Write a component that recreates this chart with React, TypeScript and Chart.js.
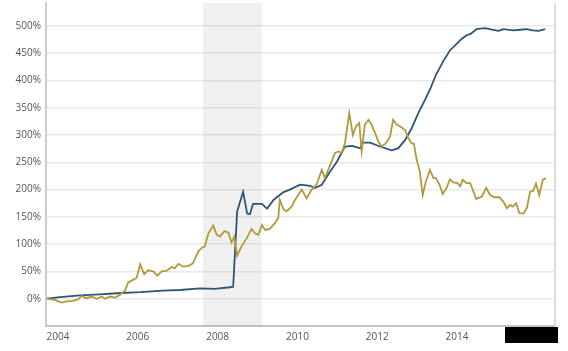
import React, { useEffect, useRef } from "react";
import { Chart, registerables } from "chart.js";

Chart.register(...registerables);

// Time axis (decimal years) and values (% change) for the two series
const blueYears = [
  2003.72, 2004.05, 2004.55, 2005.05, 2005.48, 2006.06, 2006.63, 2007.06, 2007.56, 2007.93,
  2008.31, 2008.39, 2008.49, 2008.64, 2008.74, 2008.81, 2008.89, 2009.11, 2009.24, 2009.4,
  2009.64, 2009.81, 2010.07, 2010.32, 2010.44, 2010.61, 2010.82, 2010.99, 2011.19, 2011.37,
  2011.57, 2011.65, 2011.82, 2012.07, 2012.36, 2012.53, 2012.7, 2012.86, 2013.03, 2013.2,
  2013.32, 2013.47, 2013.66, 2013.82, 2013.99, 2014.13, 2014.24, 2014.33, 2014.49, 2014.7,
  2014.88, 2015.04, 2015.16, 2015.41, 2015.58, 2015.75, 2015.9, 2016.04, 2016.21,
];
const blueValues = [
  0, 3, 6, 8, 10, 12, 15, 16, 19, 18,
  21, 22, 160, 196, 156, 155, 174, 174, 165, 181,
  195, 200, 209, 207, 203, 209, 233, 251, 279, 280,
  276, 286, 286, 279, 272, 276, 291, 312, 340, 365,
  383, 410, 436, 455, 467, 477, 483, 485, 494, 496,
  493, 491, 494, 492, 493, 494, 492, 491, 494,
];

const goldYears = [
  2003.72, 2003.92, 2004.09, 2004.22, 2004.38, 2004.51, 2004.59, 2004.72, 2004.84, 2004.97,
  2005.1, 2005.18, 2005.3, 2005.43, 2005.55, 2005.68, 2005.76, 2005.89, 2005.97, 2006.06,
  2006.16, 2006.26, 2006.39, 2006.49, 2006.6, 2006.72, 2006.85, 2006.93, 2007.02, 2007.14,
  2007.27, 2007.38, 2007.52, 2007.6, 2007.68, 2007.77, 2007.89, 2007.98, 2008.06, 2008.17,
  2008.27, 2008.35, 2008.42, 2008.49, 2008.6, 2008.73, 2008.85, 2008.94, 2009.02, 2009.11,
  2009.19, 2009.31, 2009.44, 2009.52, 2009.56, 2009.65, 2009.73, 2009.86, 2009.94, 2010.02,
  2010.11, 2010.23, 2010.36, 2010.48, 2010.61, 2010.69, 2010.82, 2010.94, 2011.03, 2011.11,
  2011.19, 2011.3, 2011.39, 2011.47, 2011.55, 2011.61, 2011.69, 2011.78, 2011.86, 2011.95,
  2012.03, 2012.11, 2012.22, 2012.32, 2012.4, 2012.49, 2012.57, 2012.7, 2012.78, 2012.86,
  2012.92, 2012.99, 2013.06, 2013.14, 2013.22, 2013.32, 2013.41, 2013.47, 2013.56, 2013.64,
  2013.74, 2013.82, 2013.91, 2014.01, 2014.08, 2014.14, 2014.24, 2014.33, 2014.48, 2014.62,
  2014.73, 2014.83, 2014.95, 2015.06, 2015.16, 2015.25, 2015.33, 2015.4, 2015.48, 2015.56,
  2015.66, 2015.75, 2015.83, 2015.91, 2015.98, 2016.06, 2016.15, 2016.23,
];
const goldValues = [
  0, -2, -7, -5, -4, -1, 5, 1, 4, 0,
  4, 0, 4, 2, 7, 15, 30, 35, 38, 63,
  45, 52, 50, 42, 50, 51, 58, 56, 64, 59,
  60, 65, 87, 93, 96, 120, 134, 117, 114, 124,
  121, 103, 114, 79, 96, 111, 128, 120, 117, 135,
  126, 128, 139, 148, 181, 164, 160, 169, 181, 190,
  200, 184, 200, 209, 236, 221, 245, 267, 270, 267,
  285, 340, 300, 316, 322, 270, 319, 328, 319, 303,
  288, 279, 285, 297, 328, 319, 316, 309, 294, 285,
  284, 254, 236, 190, 215, 236, 221, 221, 209, 192,
  203, 219, 213, 212, 206, 218, 212, 212, 183, 187,
  203, 190, 186, 186, 178, 166, 172, 169, 175, 157,
  156, 166, 196, 198, 211, 190, 218, 221,
];

const yearTicks = [2004, 2006, 2008, 2010, 2012, 2014, 2016];
const percentTicks = [0, 50, 100, 150, 200, 250, 300, 350, 400, 450, 500];
const shadedPeriod = [2007.63, 2009.11];

const BLUE = "#2b5677";
const GOLD = "#b09a3b";

const decorPlugin = {
  id: "decor",
  beforeDatasetsDraw(chart: any) {
    const { ctx, chartArea, scales } = chart;
    const x0 = scales.x.getPixelForValue(shadedPeriod[0]);
    const x1 = scales.x.getPixelForValue(shadedPeriod[1]);
    ctx.save();
    ctx.fillStyle = "rgba(0,0,0,0.06)";
    ctx.fillRect(x0, chartArea.top, x1 - x0, chartArea.bottom - chartArea.top);
    ctx.strokeStyle = "#dcdcdc";
    ctx.lineWidth = 2;
    ctx.beginPath();
    ctx.moveTo(chartArea.right, chartArea.top);
    ctx.lineTo(chartArea.right, chartArea.bottom);
    ctx.stroke();
    ctx.restore();
  },
};

export default function App() {
  const ref = useRef<HTMLCanvasElement>(null);

  useEffect(() => {
    document.body.style.margin = "0";
    const chart = new Chart(ref.current as HTMLCanvasElement, {
      type: "line",
      data: {
        datasets: [
          {
            label: "Gold",
            data: goldYears.map((x, i) => ({ x, y: goldValues[i] })),
            borderColor: GOLD,
            borderWidth: 1.8,
            pointRadius: 0,
            tension: 0,
          },
          {
            label: "Blue",
            data: blueYears.map((x, i) => ({ x, y: blueValues[i] })),
            borderColor: BLUE,
            borderWidth: 1.8,
            pointRadius: 0,
            tension: 0,
          },
        ],
      },
      options: {
        responsive: false,
        animation: false,
        layout: { padding: { top: 3, right: 13, left: 0, bottom: 0 } },
        plugins: { legend: { display: false }, tooltip: { enabled: false } },
        scales: {
          x: {
            type: "linear",
            min: 2003.7,
            max: 2016.455,
            afterBuildTicks: (axis: any) => {
              axis.ticks = yearTicks.map((v) => ({ value: v }));
            },
            afterFit: (axis: any) => {
              axis.height = 25;
              axis.paddingLeft = 0;
              axis.paddingRight = 0;
            },
            grid: { display: false, drawTicks: false },
            border: { display: true, color: "#c4c4c4", width: 2 },
            ticks: {
              padding: 5,
              maxRotation: 0,
              autoSkip: false,
              color: "#555",
              font: { family: "Open Sans", size: 10 },
              callback: (v: any) => String(v),
            },
          },
          y: {
            type: "linear",
            min: -50,
            max: 542,
            afterBuildTicks: (axis: any) => {
              axis.ticks = percentTicks.map((v) => ({ value: v }));
            },
            afterFit: (axis: any) => {
              axis.width = 46;
              axis.paddingTop = 0;
              axis.paddingBottom = 0;
            },
            grid: { color: "#e9e9e9", lineWidth: 1.5, drawTicks: false },
            border: { display: true, color: "#cccccc", width: 2 },
            ticks: {
              padding: 5,
              color: "#555",
              font: { family: "Open Sans", size: 10 },
              callback: (v: any) => v + "%",
            },
          },
        },
      },
      plugins: [decorPlugin],
    });
    return () => chart.destroy();
  }, []);

  return (
    <div style={{ position: "relative", width: 568, height: 351, background: "#fff" }}>
      <canvas ref={ref} width={568} height={351} />
      <div
        style={{
          position: "absolute",
          left: 505,
          top: 327,
          width: 53,
          height: 16,
          background: "#000",
        }}
      />
    </div>
  );
}
